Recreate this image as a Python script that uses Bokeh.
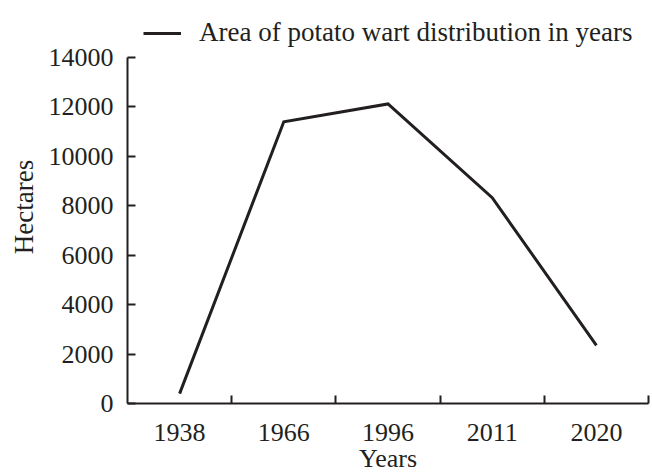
from bokeh.plotting import figure
from bokeh.models import Range1d, FixedTicker, Legend, LegendItem
from bokeh.embed import file_html
from bokeh.resources import INLINE

years = ["1938", "1966", "1996", "2011", "2020"]
hectares = [400, 11400, 12120, 8330, 2350]
y_ticks = [0, 2000, 4000, 6000, 8000, 10000, 12000, 14000]
series_name = "Area of potato wart distribution in years"
x_title = "Years"
y_title = "Hectares"

FONT = "Liberation Serif"
INK = "#231f20"

W, H = 652, 475
B_LEFT, B_RIGHT, B_TOP, B_BOTTOM = 127, 4, 10, 72
AXIS_TOP_PX = 57          # where the 14000 tick sits
frame_h = H - B_TOP - B_BOTTOM
axis_h = H - B_BOTTOM - AXIS_TOP_PX
y_max = y_ticks[-1]
y_end = y_max * frame_h / axis_h   # headroom above the axis for the legend

xs = [i + 0.5 for i in range(len(years))]

p = figure(width=W, height=H, output_backend="svg", toolbar_location=None,
           x_range=Range1d(0, len(years)), y_range=Range1d(0, y_end),
           min_border_left=B_LEFT, min_border_right=B_RIGHT,
           min_border_top=B_TOP, min_border_bottom=B_BOTTOM)
p.outline_line_color = None
p.xgrid.visible = False
p.ygrid.visible = False
p.background_fill_color = "white"
p.border_fill_color = "white"

r = p.line(xs, hectares, line_color=INK, line_width=3, line_join="miter")

# x axis: labels at category centres, ticks at category boundaries
p.xaxis.ticker = FixedTicker(ticks=xs, minor_ticks=[i + 1 for i in range(len(years))])
p.xaxis.major_label_overrides = {x: y for x, y in zip(xs, years)}
p.xaxis.major_tick_in = 0
p.xaxis.major_tick_out = 0
p.xaxis.minor_tick_in = 8
p.xaxis.minor_tick_out = 0
p.xaxis.minor_tick_line_color = INK
p.xaxis.minor_tick_line_width = 2
p.xaxis.major_label_standoff = 20
p.xaxis.axis_label = x_title
p.xaxis.axis_label_standoff = 0

p.yaxis.ticker = FixedTicker(ticks=y_ticks)
p.yaxis.bounds = (0, y_max)
p.yaxis.major_tick_in = 8
p.yaxis.major_tick_out = 0
p.yaxis.minor_tick_line_color = None
p.yaxis.major_label_standoff = 14
p.yaxis.axis_label = y_title
p.yaxis.axis_label_standoff = 7

for ax in (p.xaxis[0], p.yaxis[0]):
    ax.axis_line_color = INK
    ax.axis_line_width = 2
    ax.major_tick_line_color = INK
    ax.major_tick_line_width = 2
    ax.major_label_text_font = FONT
    ax.major_label_text_font_size = "26px"
    ax.major_label_text_color = INK
    ax.axis_label_text_font = FONT
    ax.axis_label_text_font_style = "normal"
    ax.axis_label_text_color = INK
p.xaxis.axis_label_text_font_size = "26px"
p.yaxis.axis_label_text_font_size = "27px"

legend = Legend(items=[LegendItem(label=series_name, renderers=[r])],
                location=(16, frame_h - 8 - 30), padding=0, margin=0, spacing=0,
                border_line_color=None, background_fill_alpha=0,
                glyph_width=38, glyph_height=30, label_height=30,
                label_standoff=18, label_text_font=FONT,
                label_text_font_size="27px", label_text_color=INK)
p.add_layout(legend, "center")

open("out.html", "w").write(file_html(p, INLINE))
